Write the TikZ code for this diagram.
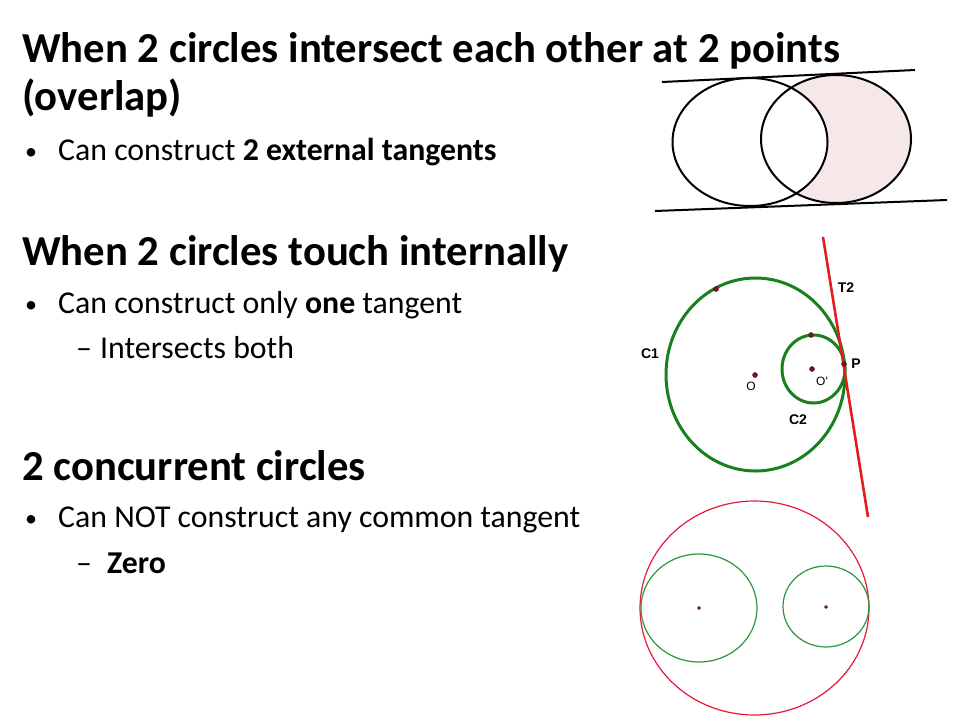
\documentclass[tikz,border=0pt]{standalone}
\usepackage{fontspec}
\setmainfont{Carlito}
\newfontfamily\labelfont{Liberation Sans}
\definecolor{pinkfill}{RGB}{246,232,232}
\definecolor{dkgreen}{RGB}{25,128,30}
\definecolor{ltgreen}{RGB}{45,150,60}
\definecolor{tred}{RGB}{225,30,30}
\definecolor{cred}{RGB}{230,25,60}
\definecolor{maroon}{RGB}{120,20,35}

\begin{document}
\begin{tikzpicture}[x=1pt, y=-1pt]
\tikzset{head/.style = {anchor=base west, inner sep=0pt, font=\fontsize{42.7}{51}\selectfont\bfseries}}
\tikzset{body/.style = {anchor=base west, inner sep=0pt, font=\fontsize{31.8}{38}\selectfont}}
\tikzset{lbl/.style = {inner sep=0pt, font=\labelfont\bfseries\fontsize{14}{16}\selectfont}}
\tikzset{dot/.style = {circle, fill=maroon, draw=maroon!70!black, inner sep=0pt, minimum size=5pt}}

\useasboundingbox (0,0) rectangle (960,720);

% text on the left
\node[head] (h1) at (22,62) {When 2 circles intersect each other at 2 points};
\node[head] (h1b) at (22,110) {(overlap)};
\node[body, font=\fontsize{24}{28}\selectfont] (u1) at (25,159) {\textbullet};
\node[body] (b1) at (58,160) {Can construct \textbf{2 external tangents}};

\node[head] (h2) at (22,265) {When 2 circles touch internally};
\node[body, font=\fontsize{24}{28}\selectfont] (u2) at (25,312) {\textbullet};
\node[body] (b2) at (58,313) {Can construct only \textbf{one} tangent};
\node[body] (d2) at (76,358) {–};
\node[body] (s2) at (100,358) {Intersects both};

\node[head] (h3) at (22,480) {2 concurrent circles};
\node[body, font=\fontsize{24}{28}\selectfont] (u3) at (25,526) {\textbullet};
\node[body] (b3) at (58,527) {Can NOT construct any common tangent};
\node[body] (d3) at (76,573) {–};
\node[body] (s3) at (107,573) {\textbf{Zero}};

% overlapping circles
\fill[pinkfill] (836,139) ellipse [x radius=75pt, y radius=64pt];
\fill[white] (750,142) ellipse [x radius=77.5pt, y radius=64pt];
\draw[line width=2pt] (750,142) ellipse [x radius=77.5pt, y radius=64pt];
\draw[line width=2pt] (836,139) ellipse [x radius=75pt, y radius=64pt];
\coordinate (ta) at (662,82);
\coordinate (tb) at (915,70);
\coordinate (ba) at (655,211);
\coordinate (bb) at (947,200);
\draw[line width=2pt] (ta) -- (tb);
\draw[line width=2pt] (ba) -- (bb);

% circles touching inside
\draw[dkgreen, line width=3pt] (755.5,374.5) ellipse [x radius=89.5pt, y radius=96.5pt];
\draw[dkgreen, line width=3pt] (813.5,369) ellipse [x radius=31.5pt, y radius=34pt];
\coordinate (ua) at (823,237);
\coordinate (ub) at (868,517);
\draw[tred, line width=2.6pt] (ua) -- (ub);
\foreach \p/\q in {716/289, 811/335, 755/375, 812/369, 844/364}
  {\node[dot] at (\p,\q) {};}
\node[lbl] (c1) at (650,354) {C1};
\node[lbl] (t2) at (846,288) {T2};
\node[lbl] (p) at (856,364) {P};
\node[lbl, font=\labelfont\fontsize{12}{14}\selectfont] (o) at (751,386) {O};
\node[lbl, font=\labelfont\fontsize{12}{14}\selectfont] (o2) at (822,381) {O'};
\node[lbl] (c2) at (798,420) {C2};

% concurrent circles
\draw[cred, line width=1.2pt] (754.5,608) ellipse [x radius=114.5pt, y radius=107pt];
\draw[ltgreen, line width=1.2pt] (699,608) ellipse [x radius=58pt, y radius=54pt];
\draw[ltgreen, line width=1.2pt] (826,606.5) ellipse [x radius=43pt, y radius=40.5pt];
\foreach \p/\q in {699/608, 826/607}
  {\node[dot, minimum size=3pt] at (\p,\q) {};}

\end{tikzpicture}
\end{document}
